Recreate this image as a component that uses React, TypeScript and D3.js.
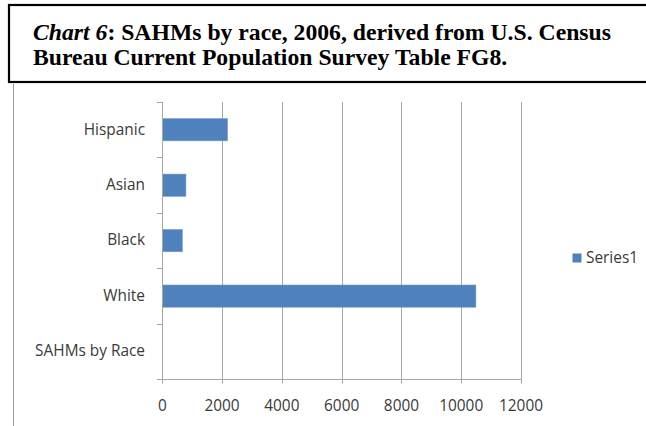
import React from "react";
import * as d3 from "d3";

const categories = ["Hispanic", "Asian", "Black", "White", "SAHMs by Race"];
const values = [2180, 790, 670, 10490, 0];
const xTicks = [0, 2000, 4000, 6000, 8000, 10000, 12000];
const seriesName = "Series1";

const W = 646;
const H = 426;
const plot = { left: 162.3, right: 521, top: 102, bottom: 379.3 };
const barColor = "#4F81BD";
const gridColor = "#A6A6A6";
const labelFont = "'Open Sans', Lato, sans-serif";
const labelSize = 15.4;
const labelColor = "#3a3a3a";
const titleFont = "'Liberation Serif', 'Times New Roman', serif";

export default function App() {
  const x = d3.scaleLinear().domain([0, 12000]).range([plot.left, plot.right]);
  const y = d3
    .scaleBand<string>()
    .domain(categories)
    .range([plot.top, plot.bottom])
    .paddingInner(0.6)
    .paddingOuter(0.3);
  const band = d3.scaleBand<string>().domain(categories).range([plot.top, plot.bottom]);

  return (
    <svg
      width={W}
      height={H}
      style={{ position: "absolute", left: 0, top: 0, background: "#fff" }}
    >
      {/* Title box */}
      <rect x={9} y={5} width={W + 10} height={77} fill="#fff" stroke="#000" strokeWidth={2.2} />
      <text x={33} y={40} fontFamily={titleFont} fontSize={23.7} fontWeight="bold" fill="#000">
        <tspan fontStyle="italic">Chart 6</tspan>
        <tspan>: SAHMs by race, 2006, derived from U.S. Census</tspan>
      </text>
      <text x={33} y={65} fontFamily={titleFont} fontSize={23.7} fontWeight="bold" fill="#000">
        Bureau Current Population Survey Table FG8.
      </text>

      {/* Chart frame edge */}
      <line x1={13.5} x2={13.5} y1={84} y2={H} stroke="#9a9a9a" strokeWidth={1} />

      {/* Vertical gridlines */}
      {xTicks.slice(1).map((t) => (
        <line
          key={"g" + t}
          x1={Math.round(x(t)) + 0.5}
          x2={Math.round(x(t)) + 0.5}
          y1={plot.top}
          y2={plot.bottom}
          stroke={gridColor}
          strokeWidth={1}
        />
      ))}

      {/* Bars */}
      {categories.map((c, i) =>
        values[i] > 0 ? (
          <rect
            key={c}
            x={x(0)}
            y={y(c)}
            width={x(values[i]) - x(0)}
            height={y.bandwidth()}
            fill={barColor}
            stroke="#6f97cc"
            strokeWidth={0.6}
          />
        ) : null
      )}

      {/* Category axis */}
      <line
        x1={Math.round(x(0)) + 0.5}
        x2={Math.round(x(0)) + 0.5}
        y1={plot.top}
        y2={plot.bottom + 4}
        stroke={gridColor}
      />
      {[...categories.map((c) => band(c) as number), plot.bottom].map((v, i) => (
        <line
          key={"yt" + i}
          x1={x(0) - 5.5}
          x2={x(0)}
          y1={Math.round(v) + 0.5}
          y2={Math.round(v) + 0.5}
          stroke={gridColor}
        />
      ))}
      {categories.map((c) => (
        <text
          key={"yl" + c}
          x={145}
          y={(band(c) as number) + band.bandwidth() / 2 + 4.8}
          textAnchor="end"
          fontFamily={labelFont}
          fontSize={labelSize}
          fill={labelColor}
        >
          {c}
        </text>
      ))}

      {/* Value axis */}
      <line
        x1={x(0)}
        x2={plot.right + 1}
        y1={Math.round(plot.bottom) + 0.5}
        y2={Math.round(plot.bottom) + 0.5}
        stroke={gridColor}
      />
      {xTicks.map((t) => (
        <line
          key={"xt" + t}
          x1={Math.round(x(t)) + 0.5}
          x2={Math.round(x(t)) + 0.5}
          y1={plot.bottom}
          y2={plot.bottom + 4}
          stroke={gridColor}
        />
      ))}
      {xTicks.map((t) => (
        <text
          key={"xl" + t}
          x={x(t)}
          y={411}
          textAnchor="middle"
          fontFamily={labelFont}
          fontSize={labelSize}
          fill={labelColor}
        >
          {t}
        </text>
      ))}

      {/* Legend */}
      <rect x={572.5} y={253.5} width={9} height={9} fill={barColor} />
      <text x={586} y={262.5} fontFamily={labelFont} fontSize={labelSize} fill={labelColor}>
        {seriesName}
      </text>
    </svg>
  );
}
